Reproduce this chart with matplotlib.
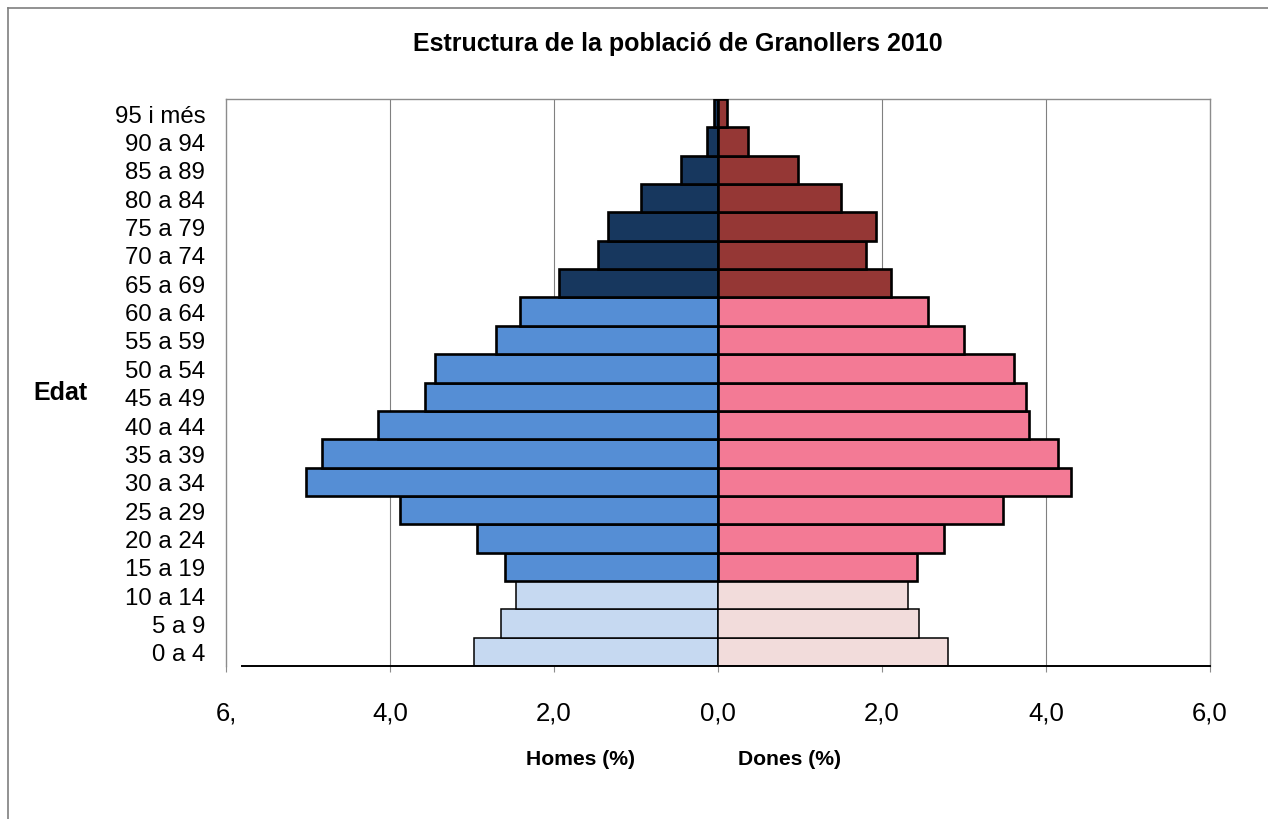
import numpy as np
import matplotlib.pyplot as plt
from matplotlib.lines import Line2D

plt.rcParams['font.family'] = ['Liberation Sans', 'DejaVu Sans']

ages = ['0 a 4', '5 a 9', '10 a 14', '15 a 19', '20 a 24', '25 a 29', '30 a 34',
        '35 a 39', '40 a 44', '45 a 49', '50 a 54', '55 a 59', '60 a 64',
        '65 a 69', '70 a 74', '75 a 79', '80 a 84', '85 a 89', '90 a 94', '95 i més']
homes = [2.98, 2.65, 2.46, 2.60, 2.94, 3.88, 5.02, 4.83, 4.15, 3.57, 3.45, 2.71, 2.41,
         1.94, 1.46, 1.34, 0.94, 0.45, 0.13, 0.05]
dones = [2.80, 2.45, 2.32, 2.43, 2.76, 3.47, 4.30, 4.15, 3.79, 3.75, 3.61, 3.00, 2.56,
         2.11, 1.81, 1.93, 1.50, 0.98, 0.37, 0.11]
# age group of each row: 0 = 0-14, 1 = 15-64, 2 = 65+
grup = [0] * 3 + [1] * 10 + [2] * 7

xticks = [-6, -4, -2, 0, 2, 4, 6]
xticklabels = ['6,', '4,0', '2,0', '0,0', '2,0', '4,0', '6,0']

col_h = ['#C6D9F1', '#558ED5', '#17375E']
col_d = ['#F2DCDB', '#F37A95', '#953735']
edge_w = [1.1, 1.9, 1.9]

W, H = 1268, 820
fig = plt.figure(figsize=(W / 100, H / 100), dpi=100)
ax = fig.add_axes([226 / W, 1 - 667 / H, (1210 - 226) / W, (667 - 100) / H])

y = np.arange(len(ages))
for i in y:
    g = grup[i]
    ax.barh(i, -homes[i], height=1.0, color=col_h[g], edgecolor='black',
            linewidth=edge_w[g], zorder=3)
    ax.barh(i, dones[i], height=1.0, color=col_d[g], edgecolor='black',
            linewidth=edge_w[g], zorder=3)

ax.set_xlim(-6, 6)
ax.set_ylim(-0.5, len(ages) - 0.5)

for x in [-4, -2, 2, 4]:
    ax.axvline(x, color='#808080', lw=0.8, zorder=1)

for s in ['top', 'right', 'left']:
    ax.spines[s].set_color('#8c8c8c')
    ax.spines[s].set_linewidth(1.0)
ax.spines['bottom'].set_visible(False)
ax.plot([(242 - 226) / 984, 1], [0, 0], transform=ax.transAxes, color='black',
        lw=1.4, zorder=4, clip_on=False)

ax.set_yticks(y)
ax.set_yticklabels(ages, fontsize=17.3)
ax.tick_params(axis='y', length=0, pad=15)
ax.set_xticks(xticks)
ax.set_xticklabels(xticklabels, fontsize=18.5)
ax.tick_params(axis='x', length=4, color='#8c8c8c', pad=20.5)

fig.text(678 / W, 1 - 44 / H, 'Estructura de la població de Granollers 2010',
         ha='center', va='center', fontsize=18, fontweight='bold')
fig.text(60 / W, 1 - 393 / H, 'Edat', ha='center', va='center',
         fontsize=18, fontweight='bold')
fig.text(581 / W, 1 - 760 / H, 'Homes (%)', ha='center', va='center',
         fontsize=15.2, fontweight='bold')
fig.text(789 / W, 1 - 760 / H, 'Dones (%)', ha='center', va='center',
         fontsize=15.2, fontweight='bold')

# outer chart frame (cropped at right and bottom)
fig.add_artist(Line2D([8 / W, 1], [1 - 9 / H, 1 - 9 / H], color='#7f7f7f', lw=1.2))
fig.add_artist(Line2D([8 / W, 8 / W], [0, 1 - 9 / H], color='#7f7f7f', lw=1.2))

fig.savefig('out.png', dpi=100)
